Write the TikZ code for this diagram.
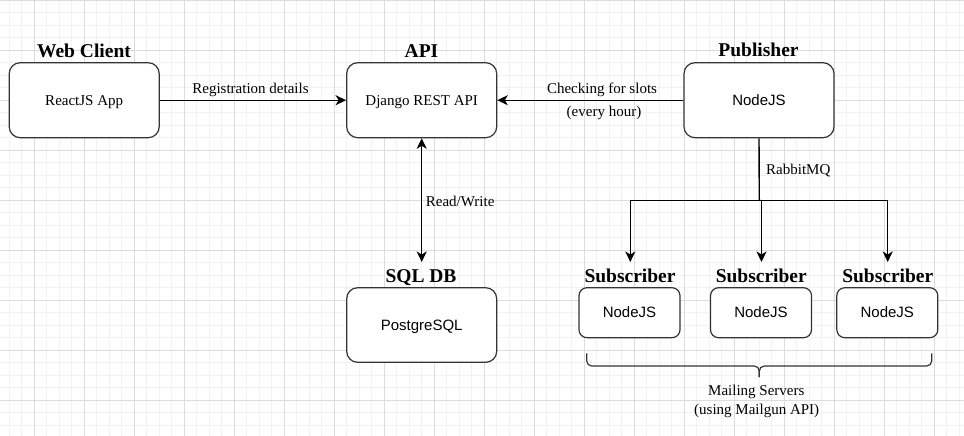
\documentclass[tikz,border=0pt]{standalone}
\usepackage{fontspec}
\setmainfont{Liberation Serif}
\newfontfamily\arialfont{Liberation Sans}
\usetikzlibrary{arrows.meta}
\definecolor{boxline}{HTML}{333333}
\definecolor{minorgrid}{HTML}{F2F2F2}
\definecolor{majorgrid}{HTML}{DCDCDC}
\tikzset{
  bigbox/.style={draw=boxline, fill=white, line width=1.2pt, rounded corners=11pt,
    minimum width=150pt, minimum height=75pt, inner sep=0pt,
    text height=10.5pt, text depth=0pt, font=\fontsize{15}{18}\selectfont},
  sansbig/.style={bigbox, font=\arialfont\fontsize{15}{18}\selectfont},
  smallbox/.style={draw=boxline, fill=white, line width=1.2pt, rounded corners=8pt,
    minimum width=101pt, minimum height=50pt, inner sep=0pt,
    text height=10.5pt, text depth=0pt, font=\arialfont\fontsize{15}{18}\selectfont},
  boxtitle/.style={font=\bfseries\fontsize{19.5}{22}\selectfont, inner sep=0pt, anchor=base},
  lbl/.style={font=\fontsize{15}{18}\selectfont, inner sep=0pt, anchor=base},
  wire/.style={line width=1.4pt, black},
  conn/.style={wire, -{Stealth[length=10.5pt,width=10pt,inset=3pt]}},
  biconn/.style={wire, {Stealth[length=10.5pt,width=10pt,inset=3pt]}-{Stealth[length=10.5pt,width=10pt,inset=3pt]}},
  bracepath/.style={draw=boxline, line width=1.2pt, rounded corners=5pt},
  gminor/.style={draw=minorgrid, line width=0.9pt},
  gmajor/.style={draw=majorgrid, line width=0.9pt},
}
\begin{document}
\begin{tikzpicture}[x=1pt,y=-1pt]
  \useasboundingbox[fill=white] (0,0) rectangle (964,436);
  % grid
  \foreach \i in {0,...,77} \draw[gminor] ({-3.2+12.5*\i},0) -- ({-3.2+12.5*\i},436);
  \foreach \j in {0,...,34} \draw[gminor] (0,{0.2+12.5*\j}) -- (964,{0.2+12.5*\j});
  \foreach \i in {0,...,18} \draw[gmajor] ({34.3+50*\i},0) -- ({34.3+50*\i},436);
  \foreach \j in {0,...,8} \draw[gmajor] (0,{0.2+50*\j}) -- (964,{0.2+50*\j});

  % boxes
  \node[bigbox] (web) at (84.2,100.2) {ReactJS App};
  \node[bigbox] (api) at (421.7,100.2) {Django REST API};
  \node[sansbig] (pub) at (759,100.2) {NodeJS};
  \node[sansbig, minimum height=74.6pt] (sql) at (421.7,325) {PostgreSQL};
  \node[smallbox] (sub1) at (629.5,312.7) {NodeJS};
  \node[smallbox] (sub2) at (761,312.7) {NodeJS};
  \node[smallbox] (sub3) at (887.3,312.7) {NodeJS};

  % titles
  \node[boxtitle] (webt) at (84,57.2) {Web Client};
  \node[boxtitle] (apit) at (421.5,57.2) {API};
  \node[boxtitle] (pubt) at (758.5,56.8) {Publisher};
  \node[boxtitle] (sqlt) at (421,282.7) {SQL DB};
  \node[boxtitle] (sub1t) at (630,282.7) {Subscriber};
  \node[boxtitle] (sub2t) at (761.3,282.7) {Subscriber};
  \node[boxtitle] (sub3t) at (887.8,282.7) {Subscriber};

  % connector labels
  \node[lbl] (regl) at (250.5,93.3) {Registration details};
  \node[lbl] (chkl) at (602,93.3) {Checking for slots};
  \node[lbl] (hrl) at (604,116.5) {(every hour)};
  \node[lbl, anchor=base west] (rwl) at (425.7,206.7) {Read/Write};
  \node[lbl] (rmql) at (798.3,174) {RabbitMQ};
  \node[lbl] (msl) at (756.3,395.7) {Mailing Servers};
  \node[lbl] (mgl) at (756.7,414) {(using Mailgun API)};

  % connectors
  \draw[conn] (web.east) -- (api.west);
  \draw[conn] (pub.west) -- (api.east);
  \coordinate (rwend) at (421.7,262);
  \draw[biconn] (api.south) -- (rwend);

  \coordinate (split) at (759.3,200.5);
  \coordinate (midsplit) at (761.5,200.5);
  \coordinate (h3) at (887.7,200.5);
  \coordinate (s1end) at (630.3,262);
  \coordinate (s2end) at (761.5,262);
  \coordinate (s3end) at (887.7,262);
  \draw[wire] (pub.south) -- (split);
  \draw[biconn] (s1end) |- (h3) -- (s3end);
  \draw[conn] (midsplit) -- (s2end);

  % brace under subscribers
  \coordinate (bl) at (586.7,353.3);
  \coordinate (br) at (931.7,353.3);
  \coordinate (btip) at (759.3,377);
  \path[bracepath] (bl) -- (586.7,366) -- (759.3,366) -- (btip);
  \path[bracepath] (br) -- (931.7,366) -- (759.3,366) -- (btip);
\end{tikzpicture}
\end{document}
